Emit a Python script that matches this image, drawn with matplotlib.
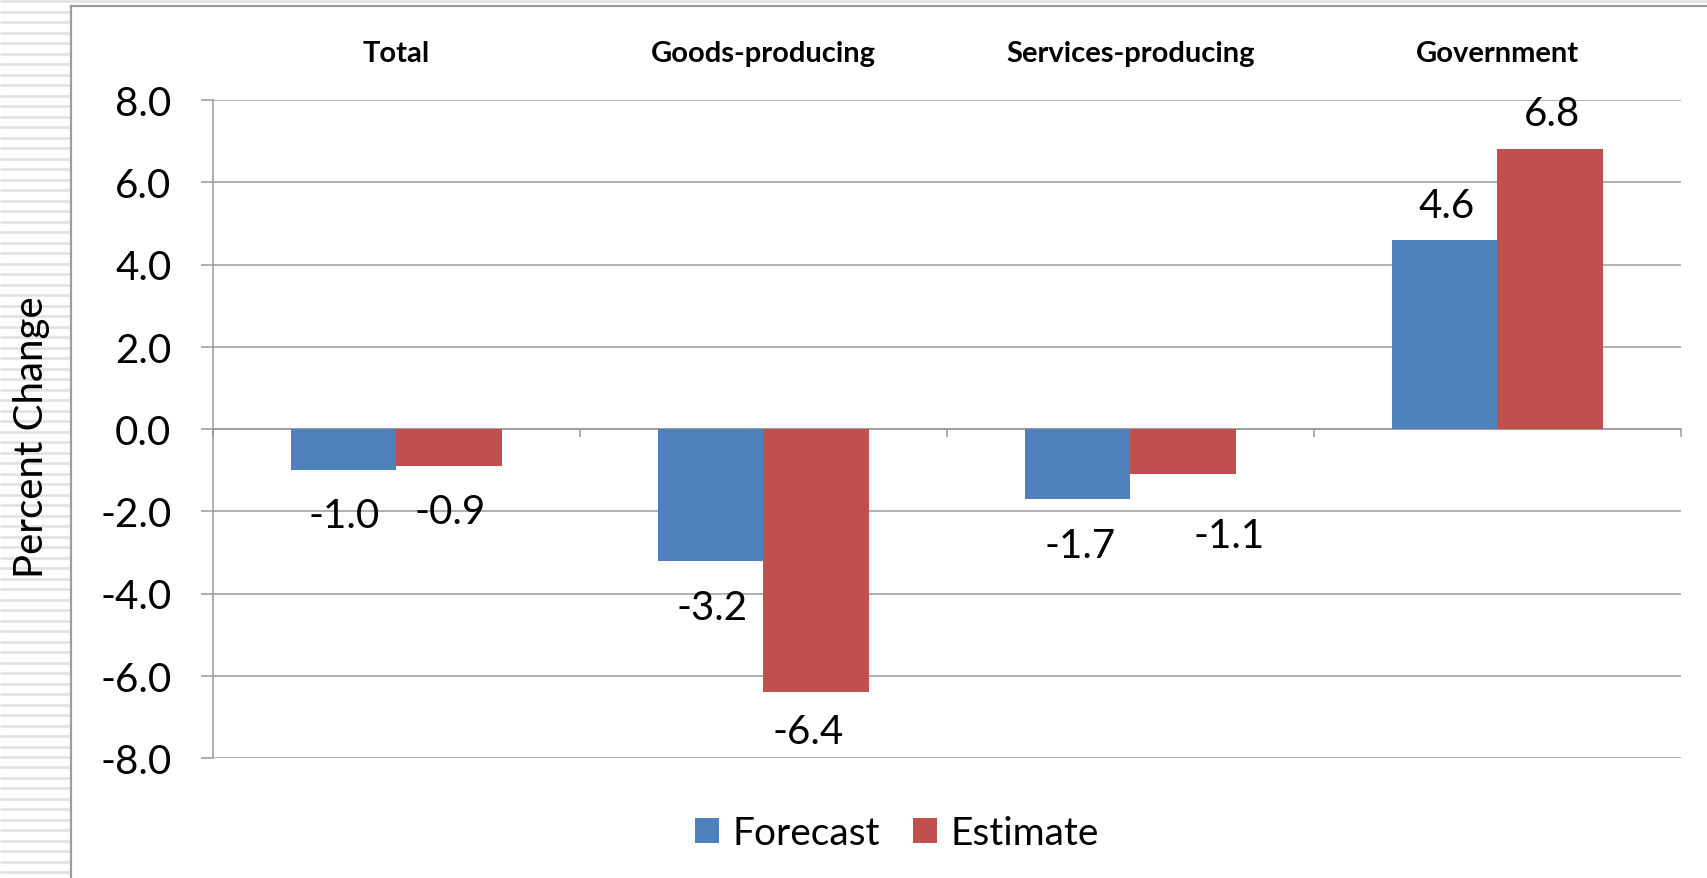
import numpy as np
import matplotlib.pyplot as plt
from matplotlib.patches import Rectangle

plt.rcParams["font.family"] = ["Lato", "DejaVu Sans"]

# data
categories = ["Total", "Goods-producing", "Services-producing", "Government"]
forecast = [-1.0, -3.2, -1.7, 4.6]
estimate = [-0.9, -6.4, -1.1, 6.8]

# label nudges in pixels (dx, dy from bar end, dy positive = downwards)
forecast_nudge = [(0, 43), (1, 44), (2, 44), (2, -37)]
estimate_nudge = [(1, 43), (-8, 37), (46, 59), (2, -38)]

BLUE = "#4F81BD"
RED = "#C0504D"
GRID = "#9a9a9a"
W, H = 1708, 879

fig = plt.figure(figsize=(W / 100, H / 100), dpi=100)

# slide frame: striped left edge and top band
bg = fig.add_axes([0, 0, 1, 1], zorder=-5)
bg.set_xlim(0, W)
bg.set_ylim(H, 0)
bg.axis("off")
bg.hlines(np.arange(2, H, 10.5), 0, W, color="#e0e0e0", lw=1.8)
bg.add_patch(Rectangle((71, 7), W - 71, H - 7, color="white", zorder=3))
bg.plot([71, 71], [7, H], color="#9c9c9c", lw=1.6, zorder=4)
bg.plot([71, W], [7, 7], color="#9c9c9c", lw=1.6, zorder=4)

ax = fig.add_axes([213 / W, 1 - 759 / H, (1681 - 213) / W, (759 - 101) / H])
ax.set_facecolor("none")

x = np.arange(len(categories))
bw = 0.287
bars_f = ax.bar(x - bw / 2, forecast, bw, color=BLUE, label="Forecast", zorder=3)
bars_e = ax.bar(x + bw / 2, estimate, bw, color=RED, label="Estimate", zorder=3)

ax.set_xlim(-0.5, len(categories) - 0.5)
ax.set_ylim(-8, 8)
ax.set_yticks(np.arange(-8, 9, 2))
ax.set_yticklabels([f"{v:.1f}" for v in np.arange(-8, 9, 2)])
ax.yaxis.grid(True, color=GRID, lw=1.1)
ax.set_axisbelow(True)

for s in ["top", "right"]:
    ax.spines[s].set_visible(False)
ax.spines["left"].set_color(GRID)
ax.spines["left"].set_linewidth(1.1)
ax.spines["bottom"].set_position(("data", 0))
ax.spines["bottom"].set_color(GRID)
ax.spines["bottom"].set_linewidth(1.1)

ax.tick_params(axis="y", length=9, width=1.1, color=GRID, pad=21, labelsize=29)

# category names on top, boundary tick marks on the zero line
ax.set_xticks(x)
ax.set_xticklabels(categories, fontsize=21, fontweight="bold")
ax.tick_params(axis="x", which="major", bottom=False, labelbottom=False,
               top=False, labeltop=True, length=0, pad=24.5)
ax.set_xticks(np.arange(len(categories) + 1) - 0.5, minor=True)
ax.tick_params(axis="x", which="minor", bottom=True, top=False, direction="out",
               length=6, width=1.1, color=GRID)

ax.set_ylabel("Percent Change", fontsize=29)
ax.yaxis.set_label_coords(-(213 - 50) / (1681 - 213), (759 - 437) / (759 - 101))

# value labels
for bars, vals, nudges in [(bars_f, forecast, forecast_nudge),
                           (bars_e, estimate, estimate_nudge)]:
    for b, v, (dx, dy) in zip(bars, vals, nudges):
        cx = b.get_x() + b.get_width() / 2
        ax.annotate(f"{v:.1f}", (cx, v), xytext=(dx * 0.72, -(dy + 14) * 0.72),
                    textcoords="offset points", ha="center", va="baseline",
                    fontsize=29, zorder=5)

fig.legend(handles=[bars_f, bars_e], loc="center",
           bbox_to_anchor=(897 / W, 1 - 834 / H), ncol=2, frameon=False,
           fontsize=28, handlelength=0.62, handleheight=0.62,
           handletextpad=0.34, columnspacing=0.85, borderpad=0)

fig.savefig("out.png", dpi=100)
